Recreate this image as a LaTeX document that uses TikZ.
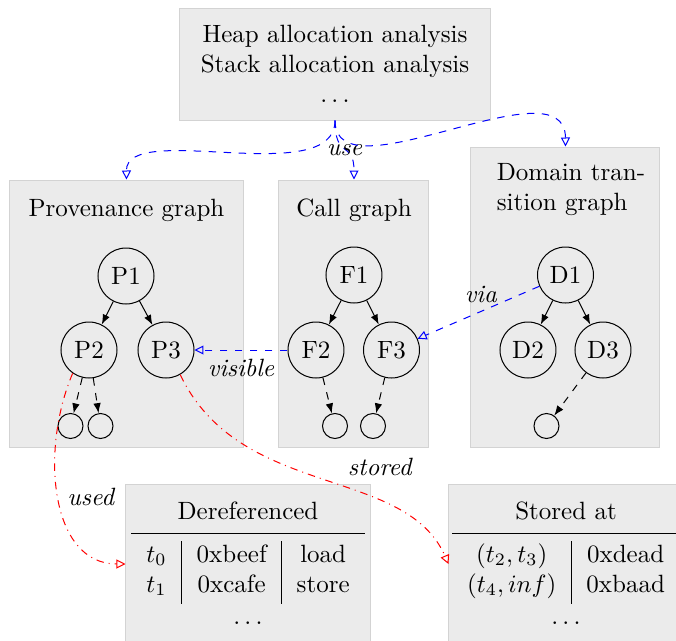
\documentclass[tikz,border=0pt]{standalone}
\usepackage{booktabs}
\usetikzlibrary{arrows.meta}
\definecolor{panelgray}{HTML}{EBEBEB}
\definecolor{panelline}{HTML}{D3D3D3}
\tikzset{
  panel/.style={draw=panelline, fill=panelgray, inner sep=0pt},
  vertex/.style={draw, circle, minimum size=22.4pt, inner sep=0pt},
  leaf/.style={draw, circle, minimum size=10pt, inner sep=0pt},
  edge/.style={-{Latex[length=4pt,width=3pt]}},
  useedge/.style={blue, dashed, -{Triangle[open,length=3.6pt,width=3.6pt]}},
  dataedge/.style={red, dash dot, -{Triangle[open,length=3.6pt,width=3.6pt]}},
  tag/.style={font=\itshape, text=black}
}

\begin{document}
\begin{tikzpicture}[x=0.4pt,y=-0.4pt]
    \useasboundingbox (0,0) rectangle (676,641);
    % analyses
    \node[panel, minimum width=124pt, minimum height=44.8pt, align=center] (ana) at (335,64)
        {Heap allocation analysis\\Stack allocation analysis\\$\ldots$};

    % provenance graph
    \node[panel, minimum width=93.2pt, minimum height=106.8pt] (prov) at (126.5,313.5) {};
    \node (provtitle) at (126.5,210) {Provenance graph};
    \node[vertex] (P1) at (126,276) {P1};
    \node[vertex] (P2) at (89,350) {P2};
    \node[vertex] (P3) at (166,350) {P3};
    \node[leaf] (p21) at (70.5,426) {};
    \node[leaf] (p22) at (100.5,426) {};
    \draw[edge] (P1) -- (P2);
    \draw[edge] (P1) -- (P3);
    \draw[edge,dashed] (P2) -- (p21);
    \draw[edge,dashed] (P2) -- (p22);

    % call graph
    \node[panel, minimum width=60pt, minimum height=106.8pt] (call) at (354,313.5) {};
    \node (calltitle) at (354,210) {Call graph};
    \node[vertex] (F1) at (354,275) {F1};
    \node[vertex] (F2) at (316,350) {F2};
    \node[vertex] (F3) at (391.5,350) {F3};
    \node[leaf] (f21) at (335,426) {};
    \node[leaf] (f31) at (373,426) {};
    \draw[edge] (F1) -- (F2);
    \draw[edge] (F1) -- (F3);
    \draw[edge,dashed] (F2) -- (f21);
    \draw[edge,dashed] (F3) -- (f31);

    % domain transition graph
    \node[panel, minimum width=75.6pt, minimum height=120pt] (dom) at (565.5,297) {};
    \node[anchor=west, align=left] (domtitle) at (488,190) {Domain tran-\\sition graph};
    \node[vertex] (D1) at (565.5,275) {D1};
    \node[vertex] (D2) at (528,350) {D2};
    \node[vertex] (D3) at (603,350) {D3};
    \node[leaf] (d31) at (546.5,426) {};
    \draw[edge] (D1) -- (D2);
    \draw[edge] (D1) -- (D3);
    \draw[edge,dashed] (D3) -- (d31);

    % tables
    \node[panel, minimum width=97.6pt, minimum height=64pt] (deref) at (248,564) {};
    \node (dereftab) at (248,566) {\begin{tabular}{c|c|c}
        \multicolumn{3}{c}{Dereferenced}\\ \midrule
        $t_0$ & 0xbeef & load\\
        $t_1$ & 0xcafe & store\\[1pt]
        \multicolumn{3}{c}{$\ldots$}
    \end{tabular}};
    \node[panel, minimum width=100.4pt, minimum height=64pt] (stored) at (574.5,564) {};
    \node (storedtab) at (566,566) {\begin{tabular}{c|c}
        \multicolumn{2}{c}{Stored at}\\ \midrule
        $(t_2,t_3)$ & 0xdead\\
        $(t_4,inf)$ & 0xbaad\\[1pt]
        \multicolumn{2}{c}{$\ldots$}
    \end{tabular}};

    % use
    \draw[useedge] (ana.south) .. controls (335,190) and (126,120) .. (prov.north);
    \draw[useedge] (ana.south) .. controls (335,160) and (354,140) .. (call.north) node[tag,pos=0.5] (uselabel) {use};
    \draw[useedge] (ana.south) .. controls (335,200) and (565,60) .. (dom.north);
    \draw[useedge] (F2) -- node[tag,below] (vislabel) {visible} (P3);
    \draw[useedge] (D1) -- node[tag,above,pos=0.48] (vialabel) {via} (F3);

    % data
    \draw[dataedge] (P2.235) .. controls (40,450) and (50,564) .. (deref.west) node[tag,right,pos=0.5] (usedlabel) {used};
    \draw[dataedge] (P3.-60) .. controls (240,500) and (405,465) .. (stored.west) node[tag,above=7pt,pos=0.69] (storedlabel) {stored};
\end{tikzpicture}
\end{document}
